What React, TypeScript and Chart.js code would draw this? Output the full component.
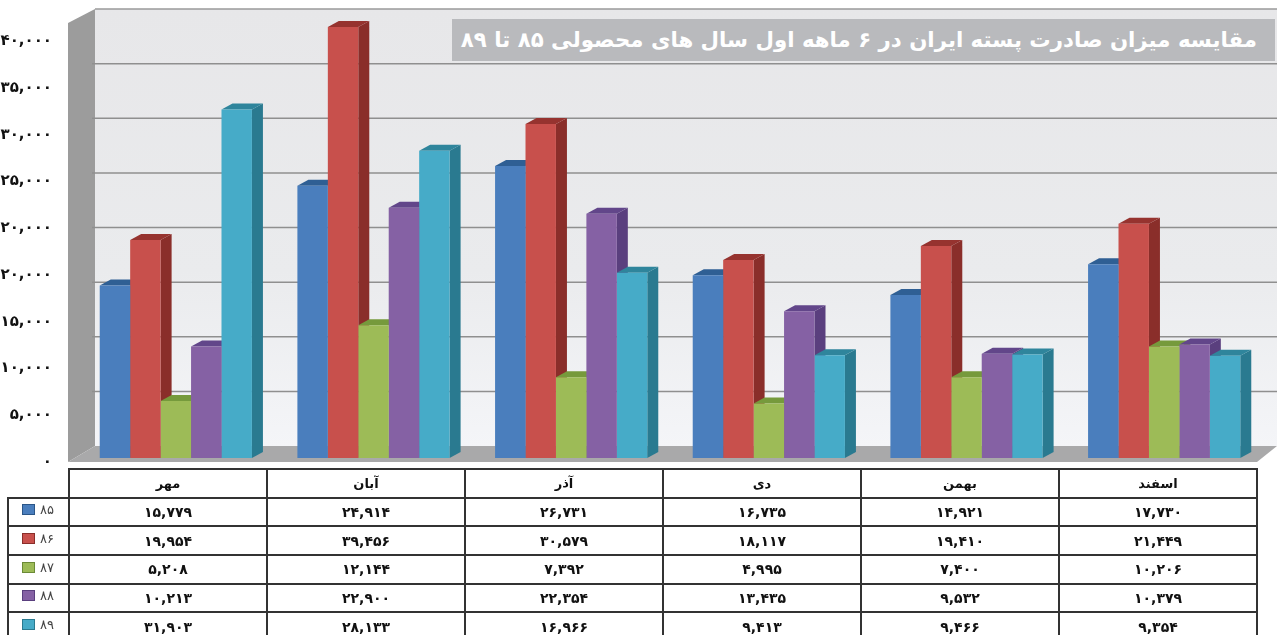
import React, { useEffect, useRef } from "react";
import { Chart, registerables } from "chart.js";

Chart.register(...registerables);

const months = ["مهر", "آبان", "آذر", "دی", "بهمن", "اسفند"];
const years = [85, 86, 87, 88, 89];
const series85 = [15779, 24914, 26731, 16735, 14921, 17730];
const series86 = [19954, 39456, 30579, 18117, 19410, 21449];
const series87 = [5208, 12144, 7392, 4995, 7400, 10206];
const series88 = [10213, 22900, 22354, 13435, 9532, 10379];
const series89 = [31903, 28133, 16966, 9413, 9466, 9354];
const allSeries = [series85, series86, series87, series88, series89];
const frontColors = ["#4a7ebd", "#c8504c", "#9dbb57", "#8561a4", "#46abc8"];
const sideColors = ["#2b5688", "#8a2e2a", "#6b8a36", "#5a3f7e", "#2a7a90"];
const topColors = ["#2f5f94", "#96332f", "#769a3c", "#62468a", "#2f859c"];
const tickLabels = ["۰", "۵,۰۰۰", "۱۰,۰۰۰", "۱۵,۰۰۰", "۲۰,۰۰۰", "۲۰,۰۰۰", "۲۵,۰۰۰", "۳۰,۰۰۰", "۳۵,۰۰۰", "۴۰,۰۰۰"];
const tickValues = [0, 5000, 10000, 15000, 20000, 25000, 30000, 35000, 40000, 45000];
const wallGridValues = [5000, 10000, 15000, 20000, 25000, 30000, 35000];
const titleText = "مقایسه میزان صادرت پسته ایران در ۶ ماهه اول سال های محصولی ۸۵ تا ۸۹";

const FONT = '"DejaVu Sans", sans-serif';
const fa = (v: number | string) =>
  String(v).replace(/\d/g, (d) => "۰۱۲۳۴۵۶۷۸۹"[Number(d)]);
const faNum = (v: number) => fa(v.toLocaleString("en-US"));

const box3d = {
  id: "box3d",
  beforeDraw(chart: any) {
    const { ctx } = chart;
    const y = chart.scales.y;
    const d = 12;
    const bottom = y.getPixelForValue(0);
    const top = y.getPixelForValue(40000);
    const wallL = 95, wallR = 1277, frontL = 68, frontR = 1257;
    const floorFront = bottom + 4;
    const floorBack = bottom - d;
    ctx.save();
    const g = ctx.createLinearGradient(0, top - d, 0, floorBack);
    g.addColorStop(0, "#e7e7e9");
    g.addColorStop(0.6, "#eaebed");
    g.addColorStop(1, "#f4f5f8");
    ctx.fillStyle = g;
    ctx.fillRect(wallL, top - d, wallR - wallL, floorBack - top + d);
    // top edge of wall
    ctx.strokeStyle = "#9a9a9a";
    ctx.lineWidth = 1.5;
    ctx.beginPath();
    ctx.moveTo(wallL, top - d);
    ctx.lineTo(wallR, top - d);
    ctx.stroke();
    // left wall
    ctx.fillStyle = "#9c9c9c";
    ctx.beginPath();
    ctx.moveTo(frontL, top + 2);
    ctx.lineTo(wallL, top - d);
    ctx.lineTo(wallL, floorBack);
    ctx.lineTo(frontL, floorFront);
    ctx.closePath();
    ctx.fill();
    // floor
    ctx.fillStyle = "#a9a9aa";
    ctx.beginPath();
    ctx.moveTo(frontL, floorFront);
    ctx.lineTo(wallL, floorBack);
    ctx.lineTo(wallR, floorBack);
    ctx.lineTo(frontR, floorFront);
    ctx.closePath();
    ctx.fill();
    // wall gridlines
    ctx.strokeStyle = "#8f8f8f";
    ctx.lineWidth = 1.5;
    for (const v of wallGridValues) {
      const py = y.getPixelForValue(v) - d;
      ctx.beginPath();
      ctx.moveTo(92, py);
      ctx.lineTo(wallR, py);
      ctx.stroke();
    }
    ctx.restore();
    // wider digit spacing for the axis labels
    ctx.letterSpacing = "3.5px";
  },
  beforeDatasetsDraw(chart: any) {
    const { ctx } = chart;
    ctx.letterSpacing = "0px";
    const dx = 11;
    const dy = 6;
    chart.data.datasets.forEach((_: any, i: number) => {
      const meta = chart.getDatasetMeta(i);
      meta.data.forEach((el: any) => {
        const w = el.width;
        const l = el.x - w / 2;
        const r = el.x + w / 2;
        const t = el.y;
        const b = el.base;
        ctx.fillStyle = sideColors[i];
        ctx.beginPath();
        ctx.moveTo(r, t);
        ctx.lineTo(r + dx, t - dy);
        ctx.lineTo(r + dx, b - dy);
        ctx.lineTo(r, b);
        ctx.closePath();
        ctx.fill();
        ctx.fillStyle = topColors[i];
        ctx.beginPath();
        ctx.moveTo(l, t);
        ctx.lineTo(l + dx, t - dy);
        ctx.lineTo(r + dx, t - dy);
        ctx.lineTo(r, t);
        ctx.closePath();
        ctx.fill();
      });
    });
  },
};

const cellBorder = "2px solid #333";

export default function App() {
  const ref = useRef<HTMLCanvasElement>(null);
  useEffect(() => {
    document.body.style.margin = "0";
    const chart = new Chart(ref.current as HTMLCanvasElement, {
      type: "bar",
      data: {
        labels: months,
        datasets: allSeries.map((data, i) => ({
          label: String(years[i]),
          data,
          backgroundColor: frontColors[i],
          borderWidth: 0,
          yAxisID: "y",
          categoryPercentage: 0.77,
          barPercentage: 1,
        })),
      },
      options: {
        responsive: false,
        animation: false,
        layout: { padding: { top: 21, bottom: 177, right: 14, left: 0 } },
        plugins: { legend: { display: false }, title: { display: false }, tooltip: { enabled: false } },
        scales: {
          x: { display: false },
          y: { display: false, min: 0, max: 40000 },
          yLabels: {
            position: "left",
            min: 400,
            max: 47190,
            grid: { display: false },
            border: { display: false },
            afterBuildTicks(scale: any) {
              scale.ticks = tickValues.map((value) => ({ value }));
            },
            afterFit(scale: any) {
              scale.width = 77;
              scale.paddingTop = 0;
              scale.paddingBottom = 0;
            },
            ticks: {
              autoSkip: false,
              maxRotation: 0,
              minRotation: 0,
              align: "center",
              padding: 17,
              color: "#111",
              font: { family: FONT, size: 15, weight: "bold" },
              callback: (_v: any, i: number) => tickLabels[i],
            },
          },
        },
      } as any,
      plugins: [box3d],
    });
    return () => chart.destroy();
  }, []);

  return (
    <div style={{ position: "absolute", left: 0, top: 0, width: 1277, height: 635, overflow: "hidden", background: "#fff", fontFamily: FONT }}>
      <canvas ref={ref} width={1277} height={635} style={{ position: "absolute", left: 0, top: 0, display: "block" }} />
      <div
        dir="rtl"
        style={{
          position: "absolute", left: 452, top: 19, width: 823, height: 42, boxSizing: "border-box",
          background: "#b9babd", color: "#fff", fontWeight: "bold", fontSize: 21.3, lineHeight: "42px",
          paddingRight: 18, whiteSpace: "nowrap", overflow: "hidden",
        }}
      >
        {titleText}
      </div>
      <table
        style={{
          position: "absolute", left: 7, top: 468, borderCollapse: "collapse", tableLayout: "fixed",
          width: 1250, color: "#111", fontSize: 14,
        }}
      >
        <colgroup>
          <col style={{ width: 61 }} />
          {months.map((m) => <col key={m} style={{ width: 198 }} />)}
        </colgroup>
        <tbody>
          <tr style={{ height: 28.7 }}>
            <td style={{ padding: 0 }} />
            {months.map((m) => (
              <td key={m} dir="rtl" style={{ border: cellBorder, textAlign: "center", padding: 0, fontSize: 13, fontWeight: "bold" }}>{m}</td>
            ))}
          </tr>
          {allSeries.map((values, i) => (
            <tr key={years[i]} style={{ height: 28.7 }}>
              <td style={{ border: cellBorder, padding: 0, whiteSpace: "nowrap" }}>
                <span style={{ display: "inline-block", position: "relative", top: -3, width: 11, height: 9, background: frontColors[i], border: `1px solid ${sideColors[i]}`, marginLeft: 13, marginRight: 5, verticalAlign: "middle" }} />
                <span style={{ position: "relative", top: -3, fontSize: 13, color: "#444", verticalAlign: "middle" }}>{fa(years[i])}</span>
              </td>
              {values.map((v, j) => (
                <td key={j} style={{ border: cellBorder, textAlign: "center", padding: 0, fontWeight: "bold", fontSize: 14 }}>{faNum(v)}</td>
              ))}
            </tr>
          ))}
        </tbody>
      </table>
    </div>
  );
}
